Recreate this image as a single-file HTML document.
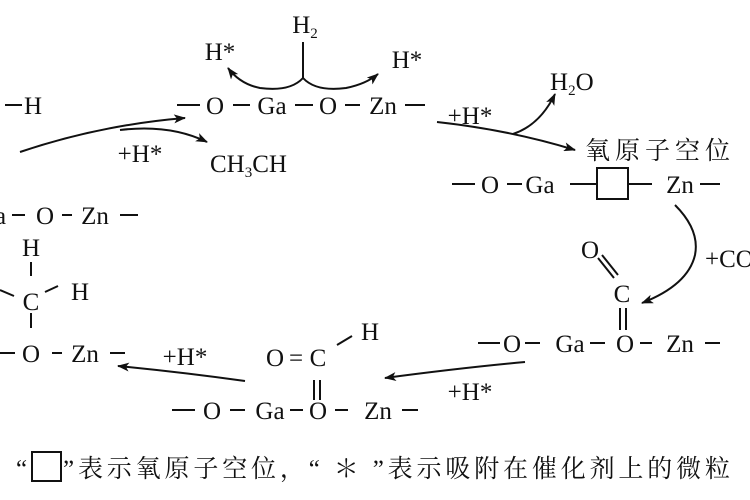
<!DOCTYPE html>
<html><head><meta charset="utf-8"><style>
body{margin:0;background:#fff}
svg{display:block}
text{font-family:"Liberation Serif","Noto Serif CJK SC",serif;font-size:25px;fill:#111}
.c{text-anchor:middle}
</style></head><body>
<svg width="750" height="500" viewBox="0 0 750 500">
<defs><marker id="a" markerWidth="12" markerHeight="9" refX="11" refY="4.5" orient="auto" markerUnits="userSpaceOnUse"><path d="M0,0 L12,4.5 L0,9 L3,4.5z" fill="#111"/></marker></defs>
<g stroke="#111" stroke-width="2" fill="none">
<path d="M177 105H200M233 105H250M295 105H313M345 105H360M405 105H425"/>
<path d="M303 42V78"/>
<path d="M303 78Q290 92 260 88Q240 84 228 68" marker-end="url(#a)"/>
<path d="M303 78Q316 92 346 88Q366 84 378 74" marker-end="url(#a)"/>
<path d="M5 105H22M12 215H25M62 215H72M120 215H138"/>
<path d="M20 152Q100 125 185 118" marker-end="url(#a)"/>
<path d="M120 130Q170 124 207 142" marker-end="url(#a)"/>
<path d="M437 122Q510 130 575 150" marker-end="url(#a)"/>
<path d="M513 134Q540 125 555 94" marker-end="url(#a)"/>
<path d="M452 184H475M507 184H522M570 184H597M628 184H652M700 184H720"/>
<rect x="597" y="168" width="31" height="31"/>
<path d="M675 205Q700 230 695 255Q688 285 642 303" marker-end="url(#a)"/>
<path d="M598 258L614 278M602 255L618 275M620 308V330M626 308V330"/>
<path d="M478 343H500M525 343H540M590 343H605M640 343H652M705 343H720"/>
<path d="M525 362Q460 368 385 378" marker-end="url(#a)"/>
<path d="M314 380V400M320 380V400M337 345L352 336"/>
<path d="M172 410H195M230 410H245M290 410H303M335 410H348M402 410H418"/>
<path d="M245 381Q180 372 118 366" marker-end="url(#a)"/>
<path d="M31 262V276M31 313V328M45 292L58 286M0 290L14 296"/>
<path d="M0 353H15M52 353H62M110 353H125"/>
<rect x="32" y="452" width="29" height="29"/>
</g>
<text x="305" y="33" class="c">H<tspan font-size="15" dy="5">2</tspan></text>
<text x="220" y="60" class="c">H*</text>
<text x="407" y="68" class="c">H*</text>
<text x="215" y="114" class="c">O</text><text x="272" y="114" class="c">Ga</text><text x="328" y="114" class="c">O</text><text x="383" y="114" class="c">Zn</text>
<text x="33" y="114" class="c">H</text>
<text x="140" y="162" class="c">+H*</text>
<text x="210" y="172">CH<tspan font-size="15" dy="5">3</tspan><tspan dy="-5">CH</tspan></text>
<text x="-5" y="224">a</text><text x="45" y="224" class="c">O</text><text x="95" y="224" class="c">Zn</text>
<text x="470" y="124" class="c">+H*</text>
<text x="550" y="90">H<tspan font-size="15" dy="5">2</tspan><tspan dy="-5">O</tspan></text>
<text x="585" y="159" font-size="27" textLength="145">氧原子空位</text>
<text x="490" y="193" class="c">O</text><text x="540" y="193" class="c">Ga</text><text x="680" y="193" class="c">Zn</text>
<text x="705" y="267">+CO</text>
<text x="590" y="258" class="c">O</text><text x="622" y="302" class="c">C</text>
<text x="512" y="352" class="c">O</text><text x="570" y="352" class="c">Ga</text><text x="625" y="352" class="c">O</text><text x="680" y="352" class="c">Zn</text>
<text x="470" y="400" class="c">+H*</text>
<text x="275" y="366" class="c">O</text><text x="296" y="366" class="c">=</text><text x="318" y="366" class="c">C</text><text x="370" y="340" class="c">H</text>
<text x="212" y="419" class="c">O</text><text x="270" y="419" class="c">Ga</text><text x="318" y="419" class="c">O</text><text x="378" y="419" class="c">Zn</text>
<text x="185" y="365" class="c">+H*</text>
<text x="31" y="256" class="c">H</text><text x="31" y="310" class="c">C</text><text x="80" y="300" class="c">H</text>
<text x="31" y="362" class="c">O</text><text x="85" y="362" class="c">Zn</text>
<text x="16" y="477">“</text>
<text x="63" y="477" font-size="27" textLength="667">”表示氧原子空位，“ ＊ ”表示吸附在催化剂上的微粒</text>
</svg>
</body></html>
